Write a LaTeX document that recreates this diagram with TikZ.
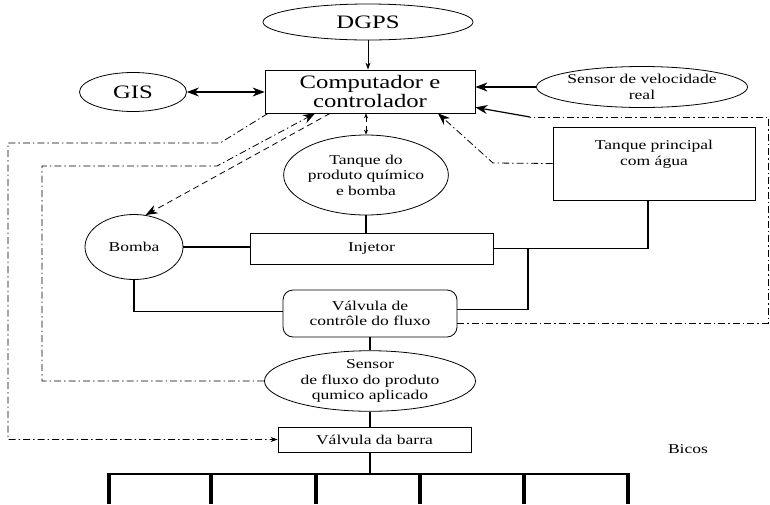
\documentclass[tikz,border=0pt]{standalone}
\usepackage{fontspec}
\setmainfont[FakeStretch=1.3]{Liberation Serif}
\usetikzlibrary{shapes.geometric,arrows.meta}
\newcommand{\txtsmall}{\fontsize{13.5}{15.5}\selectfont}
\newcommand{\txtbig}{\fontsize{19}{19}\selectfont}
\tikzset{
  oval/.style={draw,line width=0.8pt,ellipse,inner sep=0pt,align=center,font=\txtsmall},
  box/.style={draw,line width=0.8pt,rectangle,inner sep=0pt,align=center,font=\txtsmall},
  pipe/.style={line width=1.3pt},
  sig/.style={line width=0.8pt,dash pattern=on 7pt off 3pt on 1.5pt off 3pt},
  dsh/.style={line width=0.8pt,dash pattern=on 6pt off 4pt},
  tip/.style={-{Stealth[length=7pt,width=5pt]}},
  bigtip/.style={-{Stealth[length=12pt,width=9pt]}},
}
\begin{document}
\begin{tikzpicture}[x=1pt,y=-1pt]
  \useasboundingbox (0,0) rectangle (770,504);
  \node[oval,font=\txtbig,minimum width=210pt,minimum height=36pt] (dgps) at (368,22) {DGPS};
  \node[box,font=\txtbig,minimum width=210pt,minimum height=43pt] (comp) at (370,91.5) {Computador e\\controlador};
  \node[oval,font=\txtbig,minimum width=107pt,minimum height=39pt] (gis) at (133,92) {GIS};
  \node[oval,minimum width=211pt,minimum height=41pt] (vel) at (642,87) {Sensor de velocidade\\real};
  \node[oval,minimum width=152pt,minimum height=80pt] (tqprod) at (366,175) {Tanque do\\produto químico\\e bomba};
  \node[box,minimum width=202pt,minimum height=73pt,
    label={[font=\txtsmall,align=center,yshift=9pt]center:{Tanque principal\\com água}}] (tqpri) at (654,163.5) {};
  \node[oval,minimum width=98pt,minimum height=65pt] (bomba) at (134,247) {Bomba};
  \node[box,minimum width=243pt,minimum height=31pt] (injetor) at (371.5,248.5) {Injetor};
  \node[box,rounded corners=10pt,minimum width=174pt,minimum height=47pt] (valv) at (370,313.5) {Válvula de\\contrôle do fluxo};
  \node[oval,minimum width=211pt,minimum height=58pt] (sensor) at (370,381) {Sensor\\de fluxo do produto\\qumico aplicado};
  \node[box,minimum width=193pt,minimum height=25pt] (barra) at (374.5,439.5) {Válvula da barra};
  \node[font=\txtsmall] (bicos) at (688,449) {Bicos};
  \coordinate (boomL) at (107,474);
  \coordinate (boomR) at (630,474);
  \coordinate (tee) at (528,248.5);
  \coordinate (rt) at (768,117);
  \coordinate (rk) at (530,117);
  \coordinate (tk) at (493,163);
  \coordinate (oa) at (220,143);
  \coordinate (ob) at (8,143);
  \coordinate (ia) at (217,166);
  \coordinate (ib) at (42,166);
  \begin{scope}[pipe]
    \draw (tqprod.south) -- (tqprod.south |- injetor.north);
    \draw (bomba.east) -- (bomba.east -| injetor.west);
    \draw ([xshift=-6pt]tqpri.south) |- (injetor.east);
    \draw (tee) |- ([yshift=4pt]valv.east);
    \draw (bomba.south) |- ([yshift=2pt]valv.west);
    \draw (valv.south) -- (sensor.north);
    \draw (sensor.south) -- (sensor.south |- barra.north);
    \draw (sensor.south |- barra.south) -- (sensor.south |- boomL);
    \draw[line width=1.6pt] (boomL) -- (boomR);
    \foreach \x in {109,211,316,420,524,628}
      \draw[line width=4pt] (\x,474) -- (\x,504);
  \end{scope}
  \begin{scope}
    \draw[line width=0.9pt,tip] (dgps.south) -- (dgps.south |- comp.north);
    \draw[line width=1.2pt,{Stealth[length=12pt,width=9pt]}-{Stealth[length=12pt,width=9pt]}] (gis.east) -- (gis.east -| comp.west);
    \draw[line width=1.2pt,bigtip] (vel.west) -- (vel.west -| comp.east);
    \draw[sig] ([yshift=-9.5pt]valv.east) -| (rt) -- (rk);
    \draw[line width=1.2pt,bigtip] (rk) -- ([yshift=6pt]comp.south east);
    \draw[sig,bigtip] (tqpri.west) -- (tk) -- ([xshift=68pt]comp.south);
    \draw[dsh,{Stealth[length=5pt,width=4pt]}-{Stealth[length=5pt,width=4pt]}] (tqprod.north |- comp.south) -- (tqprod.north);
    \draw[dsh,bigtip] ([xshift=-40pt]comp.south) -- (bomba.70);
    \draw[sig,tip] ([xshift=-102pt]comp.south) -- (oa) -- (ob) |- (barra.west);
    \draw[sig,bigtip] (sensor.west) -| (ib) -- (ia) -- ([xshift=-55pt]comp.south);
  \end{scope}
\end{tikzpicture}
\end{document}
